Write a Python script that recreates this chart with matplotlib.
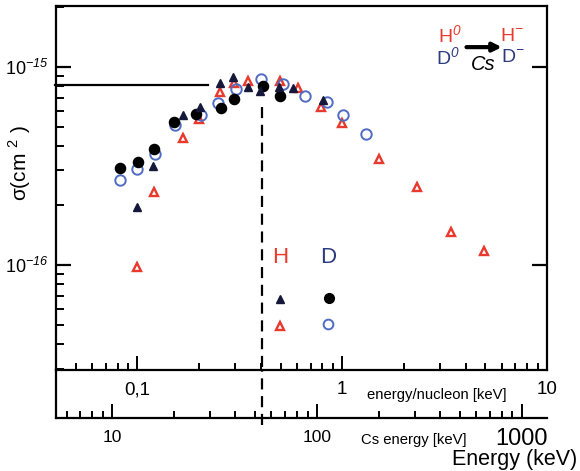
import numpy as np
import matplotlib.pyplot as plt
from matplotlib.ticker import FixedLocator, FixedFormatter, LogLocator, NullFormatter

plt.rcParams['font.family'] = ['Liberation Sans', 'DejaVu Sans']
plt.rcParams['mathtext.fontset'] = 'custom'
plt.rcParams['mathtext.rm'] = 'Liberation Sans'
# sf slot used for the italic exponents (digits in \mathit stay upright)
plt.rcParams['mathtext.sf'] = 'Liberation Sans:italic'

CS_MASS = 133  # Cs energy = energy per nucleon * mass number

# cross sections in units of 1e-16 cm^2, energies in keV/nucleon
h_fill_e = [0.10, 0.119, 0.167, 0.201, 0.252, 0.294, 0.348, 0.398, 0.49, 0.575, 0.805]
h_fill_s = [1.97, 3.16, 5.72, 6.26, 8.27, 8.93, 7.95, 7.56, 7.95, 7.80, 6.81]

h_open_e = [0.10, 0.12, 0.166, 0.20, 0.252, 0.297, 0.348, 0.494, 0.608, 0.79, 1.0,
            1.51, 2.31, 3.40, 4.93]
h_open_s = [0.98, 2.34, 4.40, 5.46, 7.50, 8.30, 8.50, 8.50, 7.86, 6.30, 5.19,
            3.42, 2.47, 1.47, 1.18]

d_fill_e = [0.082, 0.101, 0.121, 0.151, 0.193, 0.256, 0.297, 0.412, 0.494]
d_fill_s = [3.08, 3.30, 3.85, 5.29, 5.79, 6.21, 6.87, 8.04, 7.14]

d_open_e = [0.082, 0.10, 0.122, 0.153, 0.205, 0.248, 0.304, 0.403, 0.514, 0.66,
            0.842, 1.01, 1.31]
d_open_s = [2.69, 3.05, 3.62, 5.09, 5.72, 6.58, 7.74, 8.70, 8.20, 7.14,
            6.63, 5.72, 4.59]

sigma_ref = 8.11   # horizontal reference level
e_ref_end = 0.22
e_cut = 0.407      # vertical dashed marker (keV/nucleon)
sigma_cut = 6.28

xticks_n = [0.1, 1, 10]
xlabels_n = ['0,1', '1', '10']
xticks_cs = [10, 100, 1000]

RED = '#e8392c'
BLUE = '#4f6cc4'
NAVY = '#2c3a80'
DARK = '#15183a'

W, H = 580, 471
fig = plt.figure(figsize=(W / 100, H / 100), dpi=100)
ax = fig.add_axes([56 / W, 1 - 370 / H, 491 / W, 364 / H])
axc = fig.add_axes([56 / W, 1 - 418 / H, 491 / W, 48 / H])

s = lambda v: np.array(v) * 1e-16

ax.plot(h_open_e, s(h_open_s), '^', ms=6, mfc='white', mec=RED, mew=1.7, ls='none')
ax.plot(d_open_e, s(d_open_s), 'o', ms=7.5, mfc='none', mec=BLUE, mew=1.4, ls='none')
ax.plot(d_fill_e, s(d_fill_s), 'o', ms=7.3, color='black', ls='none')
ax.plot(h_fill_e, s(h_fill_s), '^', ms=6.3, color=DARK, ls='none')

ax.plot([0.0395, e_ref_end], s([sigma_ref, sigma_ref]), color='black', lw=1.6, clip_on=False)
ax.plot([e_cut, e_cut], [s(sigma_cut), 2.95e-17], color='black', lw=1.6, dashes=(5, 3))

ax.set_xscale('log')
ax.set_yscale('log')
ax.set_xlim(0.04, 10)
ax.set_ylim(2.95e-17, 2.03e-15)

for sp in ax.spines.values():
    sp.set_linewidth(1.6)

ax.xaxis.set_major_locator(FixedLocator(xticks_n))
ax.xaxis.set_major_formatter(FixedFormatter(xlabels_n))
ax.xaxis.set_minor_locator(LogLocator(subs=np.arange(2, 10)))
ax.xaxis.set_minor_formatter(NullFormatter())
ax.yaxis.set_major_locator(FixedLocator([1e-16, 1e-15]))
ax.yaxis.set_major_formatter(FixedFormatter([r'10$^{\mathsf{-16}}$', r'10$^{\mathsf{-15}}$']))
ax.yaxis.set_minor_locator(LogLocator(subs=np.arange(2, 10)))
ax.yaxis.set_minor_formatter(NullFormatter())

ax.tick_params(axis='x', which='major', direction='in', length=10, width=1.4,
               labelsize=13.5, pad=8)
ax.tick_params(axis='x', which='minor', direction='in', length=5, width=1.4)
ax.tick_params(axis='y', which='major', direction='in', length=11, width=1.6,
               labelsize=13, pad=5, right=True)
ax.tick_params(axis='y', which='minor', direction='in', length=6, width=1.4, right=False)

# Cs energy scale below the main axes
axc.set_xscale('log')
axc.set_xlim(0.04 * CS_MASS, 10 * CS_MASS)
axc.set_ylim(0, 1)
axc.patch.set_visible(False)
axc.spines['right'].set_visible(False)
axc.spines['top'].set_visible(False)
axc.spines['left'].set_linewidth(1.6)
axc.spines['bottom'].set_linewidth(1.6)
axc.set_yticks([])
axc.xaxis.set_major_locator(FixedLocator(xticks_cs))
axc.xaxis.set_major_formatter(FixedFormatter(['10', '100', '']))
axc.xaxis.set_minor_locator(LogLocator(subs=np.arange(2, 10)))
axc.xaxis.set_minor_formatter(NullFormatter())
axc.tick_params(axis='x', which='major', direction='in', length=10, width=1.4,
                labelsize=12.5, pad=9)
axc.tick_params(axis='x', which='minor', direction='in', length=5, width=1.4)
axc.text(xticks_cs[-1], -0.2, '1000', fontsize=17, ha='center', va='top',
         transform=axc.get_xaxis_transform())
axc.axvline(e_cut * CS_MASS, ymin=-0.15, ymax=1, color='black', lw=1.6,
            dashes=(5, 3), clip_on=False)

fig.text(437 / W, 1 - 395 / H, 'energy/nucleon [keV]', fontsize=10.7, ha='center', va='center')
fig.text(414 / W, 1 - 440 / H, 'Cs energy [keV]', fontsize=10.7, ha='center', va='center')
fig.text(577 / W, 1 - 459 / H, 'Energy (keV)', fontsize=15.5, ha='right', va='center')
fig.text(20 / W, 1 - 163 / H, r'σ(cm $^{2}$ )', fontsize=15, rotation=90,
         ha='center', va='center')

# reaction label, upper right
tr = ax.transAxes
ax.text(0.802, 0.917, r'H$^{\mathsf{0}}$', color=RED, fontsize=14, ha='center', va='center', transform=tr)
ax.text(0.798, 0.858, r'D$^{\mathsf{0}}$', color=NAVY, fontsize=14, ha='center', va='center', transform=tr)
ax.text(0.928, 0.917, r'H$^{\mathsf{-}}$', color=RED, fontsize=14, ha='center', va='center', transform=tr)
ax.text(0.930, 0.858, r'D$^{\mathsf{-}}$', color=NAVY, fontsize=14, ha='center', va='center', transform=tr)
ax.text(0.870, 0.838, 'Cs', fontsize=14.5, style='italic', ha='center', va='center', transform=tr)
ax.annotate('', xy=(0.908, 0.887), xytext=(0.836, 0.887), xycoords=tr,
            arrowprops=dict(arrowstyle='-|>,head_length=0.5,head_width=0.25',
                            color='black', lw=3, shrinkA=0, shrinkB=0))

# symbol key
ax.text(0.456, 0.308, 'H', color=RED, fontsize=16, ha='center', va='center', transform=tr)
ax.text(0.555, 0.308, 'D', color=NAVY, fontsize=16, ha='center', va='center', transform=tr)
ax.plot([0.456], [0.195], '^', ms=6, color=DARK, transform=tr)
ax.plot([0.555], [0.198], 'o', ms=7, color='black', transform=tr)
ax.plot([0.456], [0.121], '^', ms=6, mfc='white', mec=RED, mew=1.7, transform=tr)
ax.plot([0.554], [0.126], 'o', ms=7, mfc='none', mec=BLUE, mew=1.4, transform=tr)

fig.savefig('out.png', dpi=100)
